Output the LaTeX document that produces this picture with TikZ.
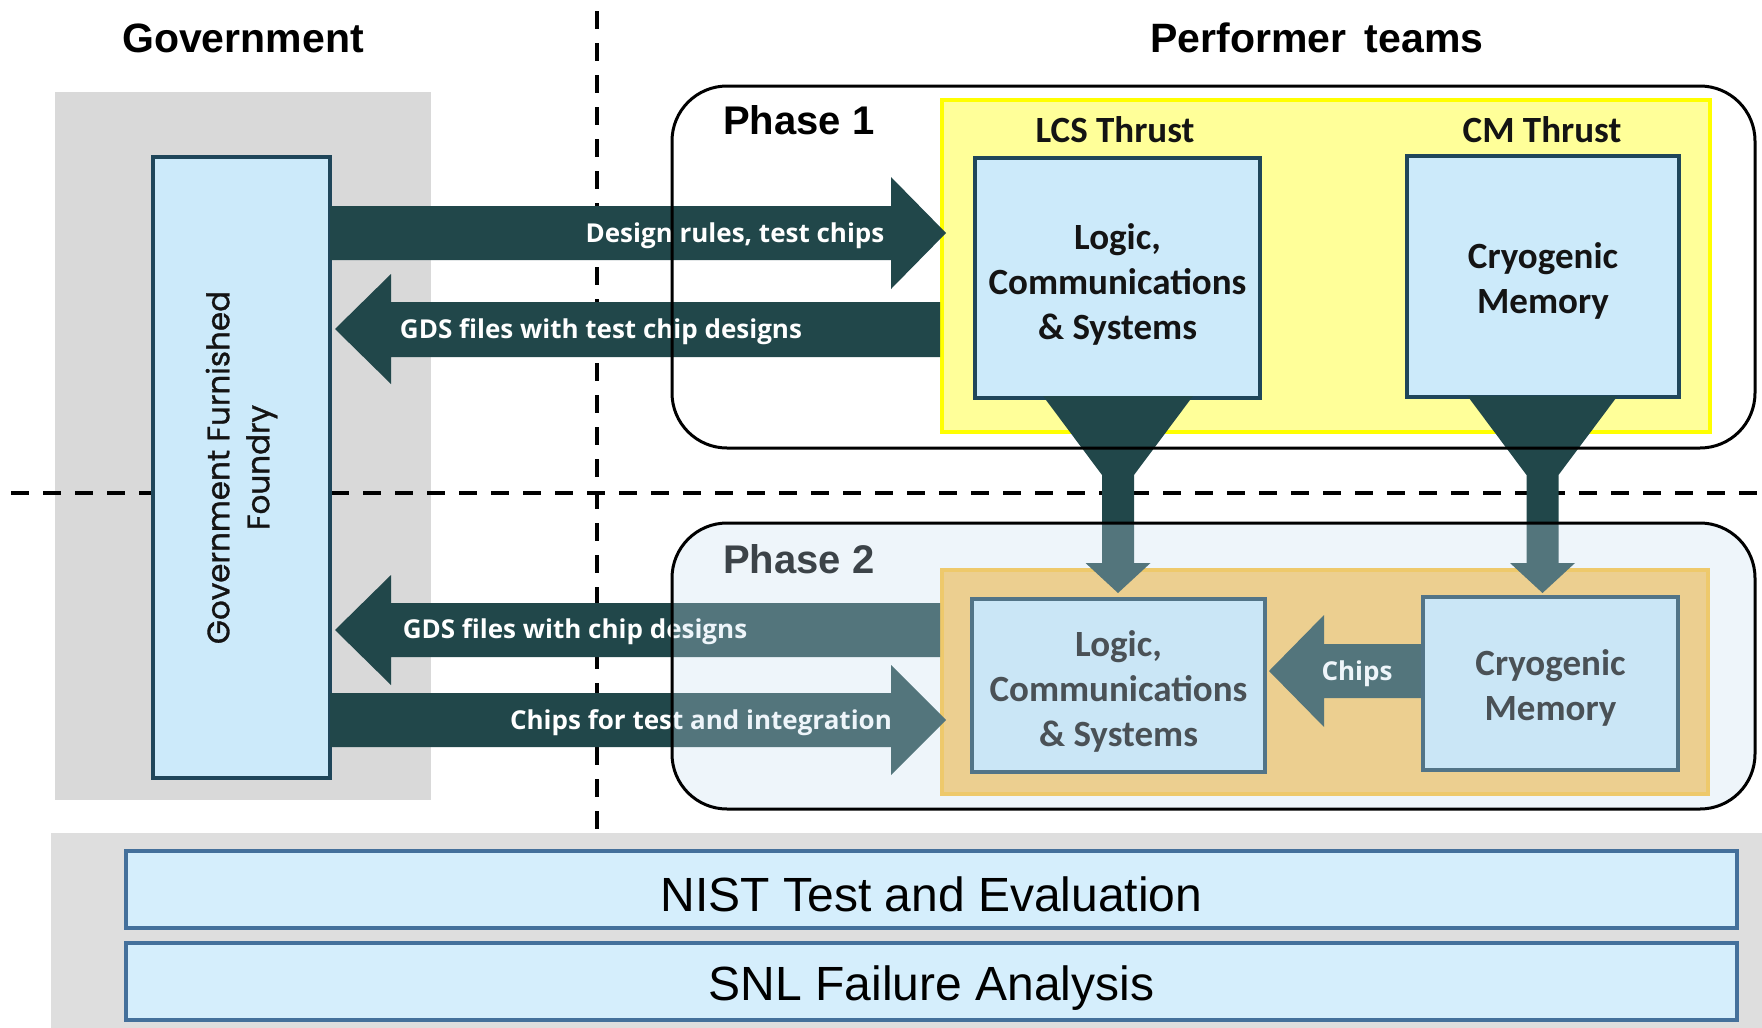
\documentclass[tikz,border=0pt]{standalone}
\usepackage{fontspec}
\setmainfont{Liberation Sans}
\newfontfamily\calibf{Carlito}
\newfontfamily\opensf{Open Sans}
\newfontfamily\poppf[FakeBold=1]{Poppins}
\definecolor{arrowc}{RGB}{33,71,74}
\definecolor{boxfill}{RGB}{204,234,250}
\definecolor{boxline}{RGB}{31,70,90}
\definecolor{govgray}{RGB}{217,217,217}
\definecolor{yelfill}{RGB}{255,255,153}
\definecolor{yelline}{RGB}{255,255,0}
\definecolor{orfill}{RGB}{253,200,103}
\definecolor{orline}{RGB}{255,192,50}
\definecolor{veil}{RGB}{200,224,240}
\definecolor{bandgray}{RGB}{222,222,222}
\definecolor{nistfill}{RGB}{213,238,252}
\definecolor{nistline}{RGB}{68,112,155}
\definecolor{txtc}{RGB}{20,20,20}
\begin{document}
\begin{tikzpicture}[x=1pt,y=-1pt,
  lbl/.style={inner sep=0pt, anchor=base},
  head/.style={lbl, font=\bfseries\fontsize{41}{49}\selectfont},
  phase/.style={lbl, anchor=base west, font=\bfseries\fontsize{40}{48}\selectfont},
  thrust/.style={lbl, font=\calibf\bfseries\fontsize{37}{45}\selectfont, text=txtc},
  tbox/.style={draw=boxline, line width=4pt, fill=boxfill, inner sep=0pt},
  btext/.style={inner sep=0pt, align=center, text=txtc,
    font=\calibf\bfseries\fontsize{37}{45}\selectfont},
  atext/.style={lbl, text=white, font=\opensf\bfseries\fontsize{26}{30}\selectfont},
  dashline/.style={line width=3.5pt, dash pattern=on 18pt off 14pt},
  phaserect/.style={rounded corners=55pt},
  band/.style={draw=nistline, line width=4pt, fill=nistfill, inner sep=0pt,
    minimum width=1611pt, minimum height=77pt, text depth=0pt,
    font=\fontsize{48}{56}\selectfont}
]
\useasboundingbox (0,0) rectangle (1762,1028);
\fill[white] (0,0) rectangle (1762,1028);

% government background
\node[fill=govgray, inner sep=0pt, minimum width=376pt, minimum height=708pt] (govbg) at (243,446) {};

% dashed separators
\draw[dashline] (11,493) -- (1762,493);
\draw[dashline] (597,11) -- (597,832);

% headings
\node[head] (govt) at (243,52) {Government};
\node[head] (perf) at (1317,52) {Performer\hspace{0.45em}teams};

% Phase 1 area
\fill[white, phaserect] (672,86) rectangle (1755,448);
\node[draw=yelline, fill=yelfill, line width=4pt, inner sep=0pt, minimum width=768pt, minimum height=332pt] (yel) at (1326,266) {};
\node[phase] (ph1) at (723,134) {Phase 1};
\node[thrust] (lcst) at (1115,142) {LCS Thrust};
\node[thrust] (cmt) at (1542,142) {CM Thrust};
\node[tbox, minimum width=285pt, minimum height=240pt] (lcs1) at (1117.5,278) {};
\node[btext] (lcs1t) at ([yshift=-6pt]lcs1.center) {Logic,\\Communications\\\& Systems};
\node[tbox, minimum width=272pt, minimum height=241pt] (cm1) at (1543,276.5) {};
\node[btext] (cm1t) at ([yshift=-4.5pt]cm1.center) {Cryogenic\\Memory};

% Phase 2 area
\node[draw=orline, fill=orfill, line width=4pt, inner sep=0pt, minimum width=766pt, minimum height=224pt] (orb) at (1325,682) {};
\node[phase] (ph2) at (723,573) {Phase 2};
\fill[arrowc] (1425,644) -- (1324,644) -- (1324,615) -- (1269,671) -- (1324,727) -- (1324,698) -- (1425,698) -- cycle;
\node[tbox, minimum width=293pt, minimum height=173pt] (lcs2) at (1118.5,685.5) {};
\node[btext] (lcs2t) at ([yshift=-5.5pt]lcs2.center) {Logic,\\Communications\\\& Systems};
\node[tbox, minimum width=255pt, minimum height=173pt] (cm2) at (1550.5,683.5) {};
\node[btext] (cm2t) at ([yshift=-4.5pt]cm2.center) {Cryogenic\\Memory};

% foundry
\node[tbox, rotate=90, minimum width=621pt, minimum height=177pt, align=center, text=txtc,
  font=\poppf\fontsize{31}{40}\selectfont] (fnd) at (241.5,467.5) {Government Furnished\\Foundry};

% big arrows
\fill[arrowc] (330,206) -- (891,206) -- (891,177) -- (946,233) -- (891,289) -- (891,260) -- (330,260) -- cycle;
\fill[arrowc] (940,302) -- (391,302) -- (391,274) -- (335,329) -- (391,384) -- (391,357) -- (940,357) -- cycle;
\fill[arrowc] (940,603) -- (391,603) -- (391,575) -- (335,630) -- (391,685) -- (391,657) -- (940,657) -- cycle;
\fill[arrowc] (330,693) -- (891,693) -- (891,665) -- (946,720) -- (891,775) -- (891,747) -- (330,747) -- cycle;

% funnel arrows from phase 1 to phase 2
\foreach \c in {1118,1542.5}{
  \fill[arrowc] ({\c-75},396) -- ({\c+75},396) -- ({\c+16},475) -- ({\c+16},563) -- ({\c+32.5},563)
    -- (\c,593) -- ({\c-32.5},563) -- ({\c-16},563) -- ({\c-16},475) -- cycle;
}

% arrow labels
\node[atext] (t1) at (735,242) {Design rules, test chips};
\node[atext] (t2) at (601,338) {GDS files with test chip designs};
\node[atext] (t3) at (575,638) {GDS files with chip designs};
\node[atext] (t4) at (701,729) {Chips for test and integration};
\node[atext] (t5) at (1357,680) {Chips};

% phase 2 veil and phase borders
\fill[veil, fill opacity=0.3, phaserect] (672,523) rectangle (1755,809);
\draw[line width=3pt, phaserect] (672,86) rectangle (1755,448);
\draw[line width=3pt, phaserect] (672,523) rectangle (1755,809);

% bottom band
\fill[bandgray] (51,833) rectangle (1762,1028);
\node[band, text height=43pt] (nist) at (931.5,889.5) {NIST Test and Evaluation};
\node[band, text height=38pt] (snl) at (931.5,981.5) {SNL Failure Analysis};
\end{tikzpicture}
\end{document}
